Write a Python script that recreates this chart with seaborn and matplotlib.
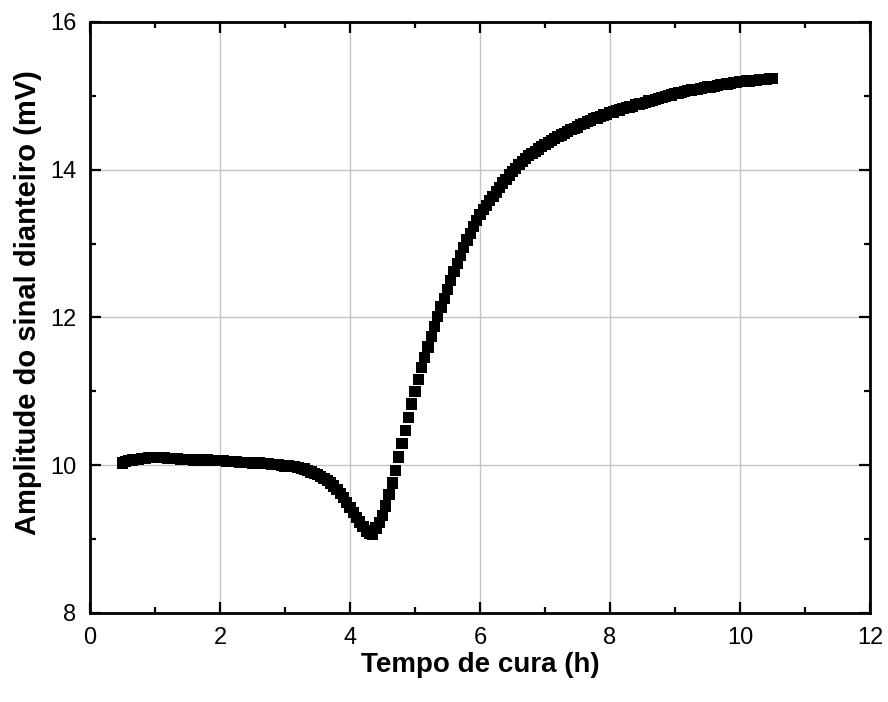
import numpy as np
import pandas as pd
import matplotlib
matplotlib.use("Agg")
import matplotlib.pyplot as plt
from matplotlib.ticker import MultipleLocator
import seaborn as sns

# Cure time sampled every 3 minutes (0.05 h) from 0.5 h to 10.5 h
t_start, t_end = 0.5, 10.5

# Front-signal amplitude (mV), one row per hour of curing
amp_0 = [10.03, 10.05, 10.06, 10.07, 10.08, 10.08, 10.09, 10.09, 10.10, 10.10,
         10.10, 10.10, 10.10, 10.10, 10.09, 10.09, 10.09, 10.09, 10.08, 10.08]
amp_1 = [10.08, 10.08, 10.07, 10.07, 10.07, 10.07, 10.07, 10.06, 10.06, 10.06,
         10.06, 10.06, 10.05, 10.05, 10.05, 10.05, 10.04, 10.04, 10.04, 10.04]
amp_2 = [10.03, 10.03, 10.03, 10.02, 10.02, 10.02, 10.01, 10.01, 10.01, 10.00,
         9.99, 9.99, 9.98, 9.98, 9.97, 9.96, 9.95, 9.93, 9.91, 9.89]
amp_3 = [9.87, 9.85, 9.82, 9.79, 9.76, 9.72, 9.67, 9.62, 9.56, 9.50,
         9.43, 9.36, 9.29, 9.23, 9.17, 9.11, 9.08, 9.07, 9.15, 9.22]
amp_4 = [9.32, 9.45, 9.60, 9.76, 9.93, 10.11, 10.29, 10.47, 10.65, 10.83,
         11.00, 11.16, 11.32, 11.46, 11.60, 11.74, 11.88, 12.01, 12.14, 12.26]
amp_5 = [12.38, 12.50, 12.62, 12.73, 12.84, 12.95, 13.05, 13.14, 13.23, 13.31,
         13.39, 13.46, 13.52, 13.58, 13.64, 13.70, 13.76, 13.82, 13.87, 13.93]
amp_6 = [13.98, 14.02, 14.07, 14.11, 14.15, 14.19, 14.22, 14.25, 14.28, 14.31,
         14.34, 14.37, 14.40, 14.42, 14.45, 14.47, 14.49, 14.52, 14.54, 14.56]
amp_7 = [14.58, 14.61, 14.63, 14.65, 14.67, 14.69, 14.70, 14.72, 14.74, 14.75,
         14.77, 14.78, 14.80, 14.81, 14.83, 14.84, 14.85, 14.86, 14.88, 14.89]
amp_8 = [14.90, 14.91, 14.93, 14.94, 14.95, 14.96, 14.98, 14.99, 15.00, 15.01,
         15.03, 15.04, 15.05, 15.06, 15.07, 15.08, 15.09, 15.09, 15.10, 15.11]
amp_9 = [15.12, 15.12, 15.13, 15.14, 15.15, 15.15, 15.16, 15.17, 15.18, 15.18,
         15.19, 15.19, 15.20, 15.20, 15.21, 15.21, 15.22, 15.22, 15.22, 15.23]
amp_end = [15.23]

amplitude = (amp_0 + amp_1 + amp_2 + amp_3 + amp_4 + amp_5 + amp_6 + amp_7
             + amp_8 + amp_9 + amp_end)
time_h = np.linspace(t_start, t_end, len(amplitude))

x_ticks = [0, 2, 4, 6, 8, 10, 12]
y_ticks = [8, 10, 12, 14, 16]

df = pd.DataFrame({"tempo": time_h, "amplitude": amplitude})

sns.set_style("ticks")
plt.rcParams["font.family"] = ["Liberation Sans", "DejaVu Sans"]
plt.rcParams["text.color"] = "black"
plt.rcParams["axes.labelcolor"] = "black"
plt.rcParams["xtick.color"] = "black"
plt.rcParams["ytick.color"] = "black"

fig = plt.figure(figsize=(8.88, 7.02), dpi=100)
ax = fig.add_axes([0.1014, 0.1268, 0.8783, 0.8419])

sns.scatterplot(data=df, x="tempo", y="amplitude", ax=ax, marker="s",
                s=66, color="black", edgecolor="none", linewidth=0,
                legend=False, zorder=3)

ax.set_xlim(0, 12)
ax.set_ylim(8, 16)
ax.set_xticks(x_ticks)
ax.set_yticks(y_ticks)
ax.set_xticklabels([str(v) for v in x_ticks])
ax.set_yticklabels([str(v) for v in y_ticks])
ax.xaxis.set_minor_locator(MultipleLocator(1))
ax.yaxis.set_minor_locator(MultipleLocator(1))

ax.grid(True, which="major", color="#c4c4c4", linewidth=1.0, zorder=0)
ax.set_axisbelow(True)

for side in ["left", "right", "top", "bottom"]:
    ax.spines[side].set_visible(True)
    ax.spines[side].set_color("black")
    ax.spines[side].set_linewidth(2.0)

ax.tick_params(which="both", direction="in", top=True, right=True,
               color="black", width=1.6)
ax.tick_params(which="major", length=8, labelsize=17, pad=10,
               labelcolor="black")
ax.tick_params(which="minor", length=4)

ax.set_xlabel("Tempo de cura (h)", fontsize=20, fontweight="bold",
              labelpad=2, color="black")
ax.set_ylabel("Amplitude do sinal dianteiro (mV)", fontsize=21,
              fontweight="bold", color="black")
ax.yaxis.set_label_coords(-0.062, 0.526)

fig.savefig("out.png", dpi=100, facecolor="white")
